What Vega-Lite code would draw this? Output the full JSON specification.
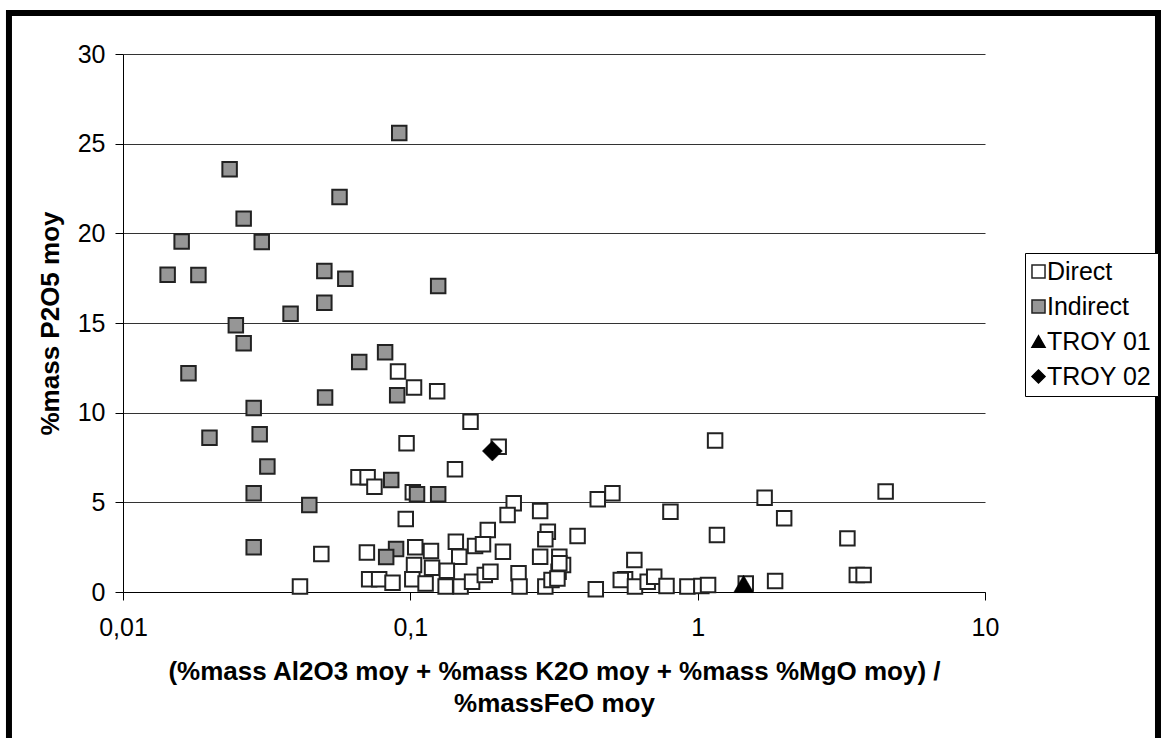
{
  "$schema": "https://vega.github.io/schema/vega-lite/v6.json",
  "width": 862,
  "height": 538,
  "padding": {"left": 123, "top": 54, "right": 186, "bottom": 146},
  "autosize": {"type": "none"},
  "background": "white",
  "config": {
    "view": {"stroke": null},
    "font": "Arial, Liberation Sans, sans-serif",
    "axis": {"labelFont": "Arial, Liberation Sans, sans-serif", "titleFont": "Arial, Liberation Sans, sans-serif"},
    "legend": {"labelFont": "Arial, Liberation Sans, sans-serif", "symbolStrokeWidth": 1.5, "symbolSize": 170}
  },
  "datasets": {
    "pts": [
      {"series": "Direct", "x": 0.0906, "y": 12.3},
      {"series": "Direct", "x": 0.103, "y": 11.4},
      {"series": "Direct", "x": 0.124, "y": 11.2},
      {"series": "Direct", "x": 0.162, "y": 9.5},
      {"series": "Direct", "x": 1.15, "y": 8.45},
      {"series": "Direct", "x": 0.097, "y": 8.3},
      {"series": "Direct", "x": 0.203, "y": 8.1},
      {"series": "Direct", "x": 0.143, "y": 6.84},
      {"series": "Direct", "x": 0.066, "y": 6.4},
      {"series": "Direct", "x": 0.071, "y": 6.4},
      {"series": "Direct", "x": 0.075, "y": 5.87},
      {"series": "Direct", "x": 0.102, "y": 5.56},
      {"series": "Direct", "x": 0.0964, "y": 4.07},
      {"series": "Direct", "x": 0.229, "y": 4.95},
      {"series": "Direct", "x": 0.218, "y": 4.3},
      {"series": "Direct", "x": 0.283, "y": 4.52},
      {"series": "Direct", "x": 0.449, "y": 5.17},
      {"series": "Direct", "x": 0.505, "y": 5.5},
      {"series": "Direct", "x": 1.71, "y": 5.26},
      {"series": "Direct", "x": 4.51, "y": 5.6},
      {"series": "Direct", "x": 0.804, "y": 4.48},
      {"series": "Direct", "x": 2.0, "y": 4.11},
      {"series": "Direct", "x": 0.382, "y": 3.12},
      {"series": "Direct", "x": 1.167, "y": 3.18},
      {"series": "Direct", "x": 3.32, "y": 2.99},
      {"series": "Direct", "x": 0.049, "y": 2.12},
      {"series": "Direct", "x": 0.0413, "y": 0.3},
      {"series": "Direct", "x": 0.0706, "y": 2.2},
      {"series": "Direct", "x": 0.186, "y": 3.46},
      {"series": "Direct", "x": 0.301, "y": 3.36},
      {"series": "Direct", "x": 0.144, "y": 2.8},
      {"series": "Direct", "x": 0.21, "y": 2.25},
      {"series": "Direct", "x": 0.168, "y": 2.57},
      {"series": "Direct", "x": 0.179, "y": 2.66},
      {"series": "Direct", "x": 0.104, "y": 2.5},
      {"series": "Direct", "x": 0.118, "y": 2.29},
      {"series": "Direct", "x": 0.148, "y": 1.97},
      {"series": "Direct", "x": 0.119, "y": 1.35},
      {"series": "Direct", "x": 0.103, "y": 1.5},
      {"series": "Direct", "x": 0.134, "y": 1.19},
      {"series": "Direct", "x": 0.0719, "y": 0.71},
      {"series": "Direct", "x": 0.0779, "y": 0.71},
      {"series": "Direct", "x": 0.0867, "y": 0.52},
      {"series": "Direct", "x": 0.1016, "y": 0.71},
      {"series": "Direct", "x": 0.113, "y": 0.48},
      {"series": "Direct", "x": 0.1327, "y": 0.3},
      {"series": "Direct", "x": 0.1496, "y": 0.3},
      {"series": "Direct", "x": 0.164, "y": 0.57},
      {"series": "Direct", "x": 0.1816, "y": 0.95},
      {"series": "Direct", "x": 0.19, "y": 1.13},
      {"series": "Direct", "x": 0.238, "y": 1.04},
      {"series": "Direct", "x": 0.24, "y": 0.3},
      {"series": "Direct", "x": 0.295, "y": 0.3},
      {"series": "Direct", "x": 0.283, "y": 1.97},
      {"series": "Direct", "x": 0.295, "y": 2.94},
      {"series": "Direct", "x": 0.328, "y": 1.13},
      {"series": "Direct", "x": 0.33, "y": 1.97},
      {"series": "Direct", "x": 0.34, "y": 1.5},
      {"series": "Direct", "x": 0.31, "y": 0.67},
      {"series": "Direct", "x": 0.325, "y": 0.75},
      {"series": "Direct", "x": 0.33, "y": 1.6},
      {"series": "Direct", "x": 0.602, "y": 1.78},
      {"series": "Direct", "x": 0.559, "y": 0.71},
      {"series": "Direct", "x": 0.54, "y": 0.67},
      {"series": "Direct", "x": 0.605, "y": 0.3},
      {"series": "Direct", "x": 0.67, "y": 0.57},
      {"series": "Direct", "x": 0.706, "y": 0.85},
      {"series": "Direct", "x": 0.779, "y": 0.33},
      {"series": "Direct", "x": 0.442, "y": 0.15},
      {"series": "Direct", "x": 0.921, "y": 0.3},
      {"series": "Direct", "x": 1.03, "y": 0.33},
      {"series": "Direct", "x": 1.087, "y": 0.39},
      {"series": "Direct", "x": 1.47, "y": 0.48},
      {"series": "Direct", "x": 1.86, "y": 0.61},
      {"series": "Direct", "x": 3.58, "y": 0.95},
      {"series": "Direct", "x": 3.78, "y": 0.95},
      {"series": "Indirect", "x": 0.0915, "y": 25.6},
      {"series": "Indirect", "x": 0.0235, "y": 23.57},
      {"series": "Indirect", "x": 0.0567, "y": 22.03},
      {"series": "Indirect", "x": 0.0263, "y": 20.82},
      {"series": "Indirect", "x": 0.016, "y": 19.55},
      {"series": "Indirect", "x": 0.0304, "y": 19.52},
      {"series": "Indirect", "x": 0.0143, "y": 17.69},
      {"series": "Indirect", "x": 0.0183, "y": 17.68},
      {"series": "Indirect", "x": 0.0502, "y": 17.9},
      {"series": "Indirect", "x": 0.0594, "y": 17.47},
      {"series": "Indirect", "x": 0.125, "y": 17.06},
      {"series": "Indirect", "x": 0.0502, "y": 16.13},
      {"series": "Indirect", "x": 0.0383, "y": 15.52},
      {"series": "Indirect", "x": 0.0247, "y": 14.87},
      {"series": "Indirect", "x": 0.0263, "y": 13.87},
      {"series": "Indirect", "x": 0.0169, "y": 12.2},
      {"series": "Indirect", "x": 0.0664, "y": 12.83},
      {"series": "Indirect", "x": 0.0817, "y": 13.37},
      {"series": "Indirect", "x": 0.0285, "y": 10.26},
      {"series": "Indirect", "x": 0.0505, "y": 10.84},
      {"series": "Indirect", "x": 0.09, "y": 10.97},
      {"series": "Indirect", "x": 0.0299, "y": 8.8},
      {"series": "Indirect", "x": 0.02, "y": 8.6},
      {"series": "Indirect", "x": 0.0318, "y": 7.0},
      {"series": "Indirect", "x": 0.0285, "y": 5.5},
      {"series": "Indirect", "x": 0.0445, "y": 4.85},
      {"series": "Indirect", "x": 0.0858, "y": 6.25},
      {"series": "Indirect", "x": 0.1055, "y": 5.45},
      {"series": "Indirect", "x": 0.125, "y": 5.45},
      {"series": "Indirect", "x": 0.0285, "y": 2.5},
      {"series": "Indirect", "x": 0.0892, "y": 2.4},
      {"series": "Indirect", "x": 0.0824, "y": 1.95},
      {"series": "TROY 01", "x": 1.445, "y": 0.45},
      {"series": "TROY 02", "x": 0.193, "y": 7.86}
    ]
  },
  "layer": [
    {
      "data": {"values": [{"a": 1}]},
      "mark": {"type": "rect", "filled": false, "stroke": "black", "strokeWidth": 6, "clip": false},
      "encoding": {
        "x": {"datum": 0.00401, "type": "quantitative", "scale": {"type": "log", "domain": [0.01, 10], "nice": false}},
        "x2": {"datum": 40},
        "y": {"datum": 32.29, "type": "quantitative", "scale": {"domain": [0, 30], "nice": false}},
        "y2": {"datum": -10}
      }
    },
    {
      "data": {"name": "pts"},
      "encoding": {
        "x": {
          "field": "x", "type": "quantitative",
          "scale": {"type": "log", "domain": [0.01, 10], "nice": false},
          "axis": {
            "values": [0.01, 0.1, 1, 10],
            "labelExpr": "replace(format(datum.value, '~g'), '.', ',')",
            "grid": false,
            "domainColor": "black", "domainWidth": 1,
            "tickColor": "black", "tickSize": 8, "tickWidth": 1,
            "labelFontSize": 25, "labelColor": "black", "labelPadding": 15,
            "labelFlush": false, "labelOverlap": false,
            "title": ["(%mass Al2O3 moy + %mass K2O moy + %mass %MgO moy) /", "%massFeO moy"],
            "titleFontSize": 26, "titleFontWeight": "bold", "titleColor": "black",
            "titlePadding": 18, "titleLineHeight": 32
          }
        },
        "y": {
          "field": "y", "type": "quantitative",
          "scale": {"domain": [0, 30], "nice": false},
          "axis": {
            "values": [0, 5, 10, 15, 20, 25, 30],
            "grid": true, "gridColor": "#333333", "gridWidth": 1,
            "domainColor": "black", "domainWidth": 1,
            "tickColor": "black", "tickSize": 8, "tickWidth": 1,
            "labelFontSize": 25, "labelColor": "black", "labelPadding": 10,
            "title": "%mass P2O5 moy",
            "titleFontSize": 26, "titleFontWeight": "bold", "titleColor": "black",
            "titlePadding": 14
          }
        },
        "fill": {
          "field": "series", "type": "nominal",
          "scale": {"domain": ["Direct", "Indirect", "TROY 01", "TROY 02"], "range": ["white", "#969696", "black", "black"]},
          "legend": {
            "title": null, "orient": "none", "legendX": 902, "legendY": 199,
            "strokeColor": "black", "fillColor": "white", "padding": 6,
            "labelFontSize": 25, "labelColor": "black", "rowPadding": 9,
            "symbolSize": 170, "labelOffset": -4, "symbolOffset": -5
          }
        },
        "stroke": {
          "field": "series", "type": "nominal",
          "scale": {"domain": ["Direct", "Indirect", "TROY 01", "TROY 02"], "range": ["#222222", "#222222", "black", "black"]},
          "legend": {
            "title": null, "orient": "none", "legendX": 902, "legendY": 199,
            "strokeColor": "black", "fillColor": "white", "padding": 6,
            "labelFontSize": 25, "labelColor": "black", "rowPadding": 9,
            "symbolSize": 170, "labelOffset": -4, "symbolOffset": -5
          }
        },
        "shape": {
          "field": "series", "type": "nominal",
          "scale": {"domain": ["Direct", "Indirect", "TROY 01", "TROY 02"], "range": ["square", "square", "triangle-up", "diamond"]},
          "legend": {
            "title": null, "orient": "none", "legendX": 902, "legendY": 199,
            "strokeColor": "black", "fillColor": "white", "padding": 6,
            "labelFontSize": 25, "labelColor": "black", "rowPadding": 9,
            "symbolSize": 170, "labelOffset": -4, "symbolOffset": -5
          }
        }
      },
      "layer": [
        {
          "transform": [{"filter": "datum.series == 'Direct' || datum.series == 'Indirect'"}],
          "mark": {"type": "point", "filled": true, "strokeWidth": 2, "size": 210, "opacity": 1}
        },
        {
          "transform": [{"filter": "datum.series == 'TROY 01'"}],
          "mark": {"type": "point", "filled": true, "strokeWidth": 0.5, "size": 400, "opacity": 1}
        },
        {
          "transform": [{"filter": "datum.series == 'TROY 02'"}],
          "mark": {"type": "point", "filled": true, "strokeWidth": 0.5, "size": 400, "opacity": 1}
        }
      ]
    }
  ]
}
